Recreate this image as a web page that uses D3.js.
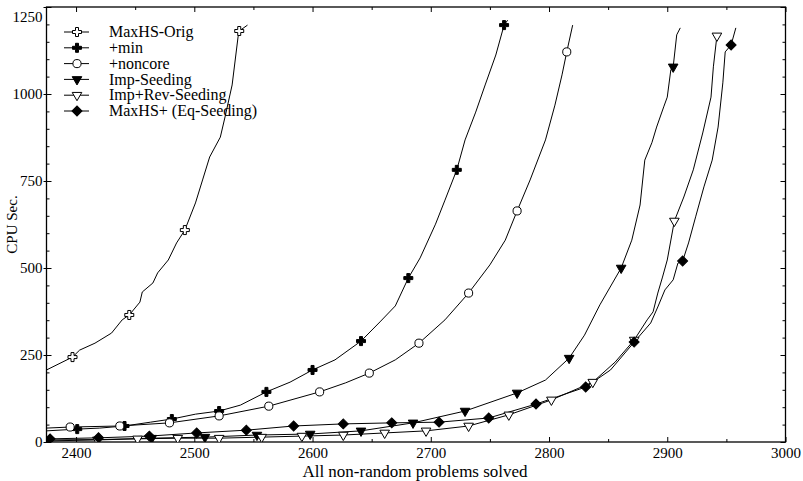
<!DOCTYPE html>
<html><head><meta charset="utf-8">
<script src="https://cdn.jsdelivr.net/npm/d3@7/dist/d3.min.js"></script>
<style>
body{margin:0;background:#fff}
svg{display:block}
text{font-family:"Liberation Serif","Times New Roman",serif;fill:#000}
</style>
</head><body>
<svg id="chart" width="803" height="481"></svg>
<script>
// ---------- data ----------
const xTicks = [2400, 2500, 2600, 2700, 2800, 2900, 3000];
const yTicks = [0, 250, 500, 750, 1000, 1250];
const seriesNames = ["MaxHS-Orig", "+min", "+noncore", "Imp-Seeding", "Imp+Rev-Seeding", "MaxHS+ (Eq-Seeding)"];

const origX = [2375, 2397, 2403, 2416, 2430, 2439, 2445, 2454, 2456, 2465, 2469, 2478, 2485, 2492, 2501, 2507, 2513, 2522, 2526, 2532, 2537, 2538, 2545];
const origY = [207, 244, 264, 284, 313, 351, 365, 402, 431, 457, 486, 523, 572, 609, 687, 753, 819, 876, 934, 1026, 1164, 1181, 1198];
const origMX = [2397, 2445, 2492, 2538];
const origMY = [244, 365, 609, 1181];

const minX = [2375, 2401, 2420, 2441, 2463, 2481, 2501, 2521, 2539, 2561, 2581, 2600, 2619, 2641, 2657, 2670, 2681, 2691, 2704, 2712, 2722, 2729, 2738, 2746, 2755, 2762, 2765];
const minY = [32, 37, 40, 46, 57, 66, 80, 89, 106, 144, 172, 207, 236, 290, 345, 391, 471, 529, 626, 695, 782, 868, 948, 1026, 1112, 1198, 1212];
const minMX = [2401, 2441, 2481, 2521, 2561, 2600, 2641, 2681, 2722, 2762];
const minMY = [37, 46, 66, 89, 144, 207, 290, 471, 782, 1198];

const ncX = [2375, 2395, 2437, 2479, 2521, 2563, 2606, 2628, 2648, 2670, 2690, 2712, 2732, 2750, 2763, 2773, 2784, 2797, 2805, 2811, 2815, 2820];
const ncY = [40, 43, 46, 55, 75, 103, 144, 170, 198, 236, 284, 351, 428, 509, 580, 664, 753, 868, 968, 1055, 1121, 1198];
const ncMX = [2395, 2437, 2479, 2521, 2563, 2606, 2648, 2690, 2732, 2773, 2815];
const ncMY = [43, 46, 55, 75, 103, 144, 198, 284, 428, 664, 1121];

const impX = [2375, 2420, 2464, 2509, 2553, 2598, 2641, 2685, 2729, 2773, 2797, 2817, 2830, 2843, 2861, 2870, 2877, 2881, 2887, 2891, 2897, 2900, 2903, 2905, 2908, 2911];
const impY = [6, 7, 11, 14, 20, 23, 32, 55, 89, 141, 178, 241, 307, 394, 500, 580, 681, 810, 860, 905, 963, 991, 1069, 1078, 1170, 1190];
const impMX = [2464, 2509, 2553, 2598, 2641, 2685, 2729, 2773, 2817, 2861, 2905];
const impMY = [11, 14, 20, 23, 32, 55, 89, 141, 241, 500, 1078];

const revX = [2375, 2418, 2452, 2486, 2521, 2557, 2591, 2626, 2661, 2696, 2732, 2766, 2802, 2837, 2856, 2872, 2883, 2888, 2892, 2896, 2900, 2906, 2914, 2922, 2930, 2937, 2939, 2942];
const revY = [3, 6, 9, 11, 11, 14, 17, 20, 26, 32, 46, 78, 121, 172, 230, 293, 351, 374, 428, 474, 523, 635, 704, 782, 888, 991, 1078, 1167];
const revMX = [2418, 2452, 2486, 2521, 2557, 2591, 2626, 2661, 2696, 2732, 2766, 2802, 2837, 2872, 2906, 2942];
const revMY = [6, 9, 11, 11, 14, 17, 20, 26, 32, 46, 78, 121, 172, 293, 635, 1167];

const eqX = [2375, 2378, 2419, 2462, 2502, 2544, 2584, 2626, 2667, 2707, 2749, 2789, 2831, 2852, 2872, 2886, 2892, 2898, 2905, 2909, 2913, 2918, 2924, 2931, 2938, 2943, 2947, 2949, 2954, 2958];
const eqY = [6, 9, 12, 17, 26, 34, 46, 52, 55, 57, 69, 109, 158, 207, 287, 342, 388, 437, 466, 514, 520, 572, 647, 733, 810, 905, 1032, 1121, 1141, 1190];
const eqMX = [2378, 2419, 2462, 2502, 2544, 2584, 2626, 2667, 2707, 2749, 2789, 2831, 2872, 2913, 2954];
const eqMY = [9, 12, 17, 26, 34, 46, 52, 55, 57, 69, 109, 158, 287, 520, 1141];

// ---------- layout ----------
const svg = d3.select("#chart");
const L = 46.5, R = 785.5, T = 7, B = 442;
const x = d3.scaleLinear().domain([2375, 3000]).range([L, R]);
const y = d3.scaleLinear().domain([0, 1250]).range([B, T]);

const series = [
  {name: seriesNames[0], xs: origX, ys: origY, mx: origMX, my: origMY, sym: "crossOpen"},
  {name: seriesNames[1], xs: minX, ys: minY, mx: minMX, my: minMY, sym: "crossFill"},
  {name: seriesNames[2], xs: ncX, ys: ncY, mx: ncMX, my: ncMY, sym: "circle"},
  {name: seriesNames[3], xs: impX, ys: impY, mx: impMX, my: impMY, sym: "triFill"},
  {name: seriesNames[4], xs: revX, ys: revY, mx: revMX, my: revMY, sym: "triOpen"},
  {name: seriesNames[5], xs: eqX, ys: eqY, mx: eqMX, my: eqMY, sym: "diamond"}
];

function markerPath(kind) {
  switch (kind) {
    case "crossOpen": case "crossFill": return d3.symbol(d3.symbolCross, 45)();
    case "circle": return d3.symbol(d3.symbolCircle, 52)();
    case "triFill": case "triOpen": return d3.symbol(d3.symbolTriangle, 40)();
    case "diamond": return d3.symbol(d3.symbolSquare, 50)();
  }
}
function markerRot(kind) {
  if (kind === "triFill" || kind === "triOpen") return " rotate(180)";
  if (kind === "diamond") return " rotate(45)";
  return "";
}
function markerFill(kind) {
  return (kind === "crossOpen" || kind === "circle" || kind === "triOpen") ? "#fff" : "#000";
}

svg.append("clipPath").attr("id", "clip").append("rect")
  .attr("x", L).attr("y", T).attr("width", R - L).attr("height", B - T);

// ---------- axes ----------
const minorX = d3.range(2400, 3001, 50).filter(v => v % 100 !== 0);
const minorY = d3.range(50, 1250, 50).filter(v => v % 250 !== 0);

function styleAxis(g) {
  g.select(".domain").remove();
  g.selectAll("line").attr("stroke", "#000").attr("stroke-width", 1);
  g.selectAll("text").attr("font-size", 15).attr("font-family", "Liberation Serif, serif");
}

svg.append("g").attr("transform", `translate(0,${B})`)
  .call(d3.axisBottom(x).tickValues(xTicks).tickSize(-5).tickPadding(5).tickFormat(d3.format("d")))
  .call(styleAxis);
svg.append("g").attr("transform", `translate(0,${B})`)
  .call(d3.axisBottom(x).tickValues(minorX).tickSize(-3).tickFormat(""))
  .call(styleAxis);
svg.append("g").attr("transform", `translate(0,${T})`)
  .call(d3.axisTop(x).tickValues(xTicks).tickSize(-5).tickFormat(""))
  .call(styleAxis);
svg.append("g").attr("transform", `translate(0,${T})`)
  .call(d3.axisTop(x).tickValues(minorX).tickSize(-3).tickFormat(""))
  .call(styleAxis);
const gl = svg.append("g").attr("transform", `translate(${L},0)`)
  .call(d3.axisLeft(y).tickValues(yTicks).tickSize(-5).tickPadding(6).tickFormat(d3.format("d")))
  .call(styleAxis);
gl.selectAll(".tick line").attr("x1", -3).attr("x2", 5);
gl.selectAll(".tick text").filter(d => d === 1250).attr("dy", "0.95em");
gl.selectAll(".tick text").attr("x", -4);
svg.append("g").attr("transform", `translate(${L},0)`)
  .call(d3.axisLeft(y).tickValues(minorY).tickSize(-3).tickFormat(""))
  .call(styleAxis);
svg.append("g").attr("transform", `translate(${R},0)`)
  .call(d3.axisRight(y).tickValues(yTicks).tickSize(-5).tickFormat(""))
  .call(styleAxis);
svg.append("g").attr("transform", `translate(${R},0)`)
  .call(d3.axisRight(y).tickValues(minorY).tickSize(-3).tickFormat(""))
  .call(styleAxis);

svg.append("rect").attr("x", L).attr("y", T).attr("width", R - L).attr("height", B - T)
  .attr("fill", "none").attr("stroke", "#000").attr("stroke-width", 1.3);

svg.append("text").attr("x", 415).attr("y", 477).attr("text-anchor", "middle")
  .attr("font-size", 17).text("All non-random problems solved");
svg.append("text").attr("transform", `translate(17,${(T + B) / 2}) rotate(-90)`)
  .attr("text-anchor", "middle").attr("font-size", 15).text("CPU Sec.");

// ---------- series ----------
const line = d3.line().x(d => x(d[0])).y(d => y(d[1]));
const plot = svg.append("g").attr("clip-path", "url(#clip)");
series.forEach(s => {
  const pts = s.xs.map((v, i) => [v, s.ys[i]]);
  plot.append("path").datum(pts).attr("d", line)
    .attr("fill", "none").attr("stroke", "#000").attr("stroke-width", 1);
});
series.forEach(s => {
  const mp = s.mx.map((v, i) => [v, s.my[i]]);
  plot.selectAll(null).data(mp).join("path")
    .attr("d", markerPath(s.sym))
    .attr("transform", d => `translate(${x(d[0])},${y(d[1])})` + markerRot(s.sym))
    .attr("fill", markerFill(s.sym)).attr("stroke", "#000").attr("stroke-width", 1);
});

// ---------- legend ----------
const leg = svg.append("g");
series.forEach((s, i) => {
  const yy = 32 + i * 15.8;
  leg.append("line").attr("x1", 64).attr("x2", 89).attr("y1", yy).attr("y2", yy)
    .attr("stroke", "#000").attr("stroke-width", 1);
  leg.append("path").attr("d", markerPath(s.sym))
    .attr("transform", `translate(77,${yy})` + markerRot(s.sym))
    .attr("fill", markerFill(s.sym)).attr("stroke", "#000").attr("stroke-width", 1);
  leg.append("text").attr("x", 109).attr("y", yy).attr("dy", "0.33em")
    .attr("font-size", 16).text(s.name);
});
</script>
</body></html>
